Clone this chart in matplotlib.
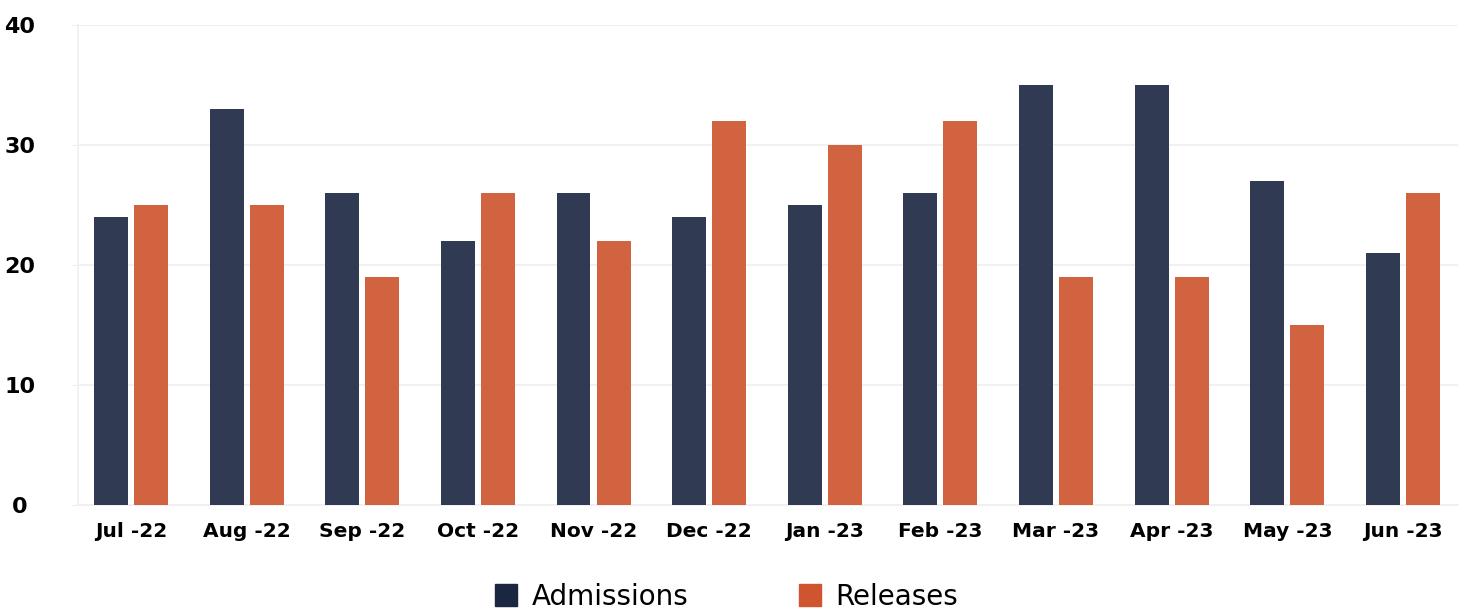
import numpy as np
import matplotlib.pyplot as plt
from matplotlib.patches import Patch

months = ["Jul -22", "Aug -22", "Sep -22", "Oct -22", "Nov -22", "Dec -22",
          "Jan -23", "Feb -23", "Mar -23", "Apr -23", "May -23", "Jun -23"]
admissions = [24, 33, 26, 22, 26, 24, 25, 26, 35, 35, 27, 21]
releases = [25, 25, 19, 26, 22, 32, 30, 32, 19, 19, 15, 26]

navy = "#303B53"
orange = "#D26340"

plt.rcParams["font.family"] = ["DejaVu Sans"]

fig = plt.figure(figsize=(14.65, 6.10), dpi=100)
W, H = 1465, 610
ax = fig.add_axes([78 / W, 1 - 505 / H, (1458 - 78) / W, (505 - 25) / H])

x = np.arange(len(months))
bw = 0.294
off = 0.173
ax.bar(x - off, admissions, width=bw, color=navy, zorder=3)
ax.bar(x + off, releases, width=bw, color=orange, zorder=3)

ax.set_xlim(-0.458, 11.476)
ax.set_ylim(0, 40)
ax.set_yticks([0, 10, 20, 30, 40])
ax.yaxis.grid(True, color="#EFEFEF", linewidth=1.2, zorder=0)
ax.tick_params(axis="y", length=5, color="#EFEFEF", pad=37, labelsize=16)
ax.tick_params(axis="x", length=0, pad=12, labelsize=14.5)
for lbl in ax.get_yticklabels():
    lbl.set_fontweight("bold")
    lbl.set_horizontalalignment("center")
ax.set_xticks(x)
ax.set_xticklabels(months, fontweight="bold")

for s in ["top", "right"]:
    ax.spines[s].set_visible(False)
ax.spines["left"].set_color("#EFEFEF")
ax.spines["bottom"].set_color("#EFEFEF")
ax.spines["left"].set_linewidth(1.2)
ax.spines["bottom"].set_linewidth(1.2)

handles = [Patch(color="#1B2640", label="Admissions"),
           Patch(color="#CF5530", label="Releases")]
fig.legend(handles=handles, loc="center", bbox_to_anchor=(0.496, 0.022),
           ncol=2, frameon=False, fontsize=20, handlelength=0.8,
           handleheight=0.8, handletextpad=0.5, columnspacing=4.0)

fig.savefig("out.png", dpi=100)
